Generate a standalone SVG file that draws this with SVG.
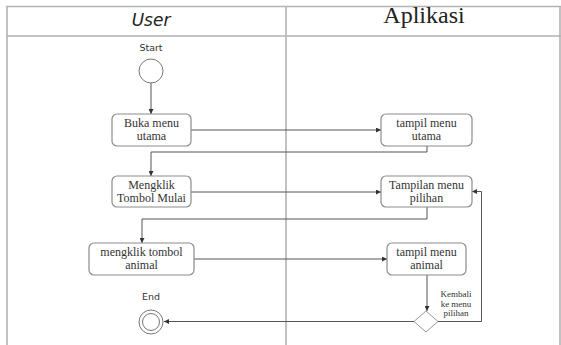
<svg xmlns="http://www.w3.org/2000/svg" width="561" height="345" viewBox="0 0 561 345">
  <defs>
    <marker id="arrow" viewBox="0 0 6 6" refX="6" refY="3" markerWidth="5" markerHeight="5" orient="auto" markerUnits="userSpaceOnUse">
      <path d="M0,0 L6,3 L0,6 z" fill="#333"/>
    </marker>
    <style>
      .frame { fill: none; stroke: #b3b3b3; stroke-width: 1.6; }
      .box { fill: #ffffff; stroke: #8c8c8c; stroke-width: 1.2; }
      .edge { fill: none; stroke: #555; stroke-width: 1; marker-end: url(#arrow); }
      .line { fill: none; stroke: #555; stroke-width: 1; }
      .lbl { font-family: "Liberation Serif", "Times New Roman", serif; font-size: 12px; fill: #333; text-anchor: middle; }
      .small { font-family: "Liberation Serif", "Times New Roman", serif; font-size: 9px; fill: #333; text-anchor: middle; }
      .cap { font-family: "DejaVu Sans", "Liberation Sans", sans-serif; font-size: 9.5px; fill: #333; text-anchor: middle; }
    </style>
  </defs>
  <rect width="561" height="345" fill="#ffffff"/>

  <!-- swimlane frame -->
  <g id="lanes">
    <path class="frame" d="M7,345 V6.5 H561 M7,36 H561 M286,6.5 V345 M560,6.5 V345"/>
    <text x="151" y="26" font-family="DejaVu Sans, sans-serif" font-style="italic" font-size="17" fill="#222" text-anchor="middle">User</text>
    <text x="424" y="23" font-family="Liberation Serif, serif" font-size="24" fill="#222" text-anchor="middle">Aplikasi</text>
  </g>

  <!-- connectors -->
  <g id="connectors">
    <path class="edge" d="M151,83 V114"/>
    <path class="edge" d="M191,130 H381"/>
    <path class="edge" d="M427,146 V152 H151 V176"/>
    <path class="edge" d="M191,192 H381"/>
    <path class="edge" d="M427,207 V219 H142 V243"/>
    <path class="edge" d="M194,259 H387"/>
    <path class="edge" d="M427,275 V311"/>
    <path class="edge" d="M438,321.5 H481.5 V191.5 H472"/>
    <path class="edge" d="M414,321.5 H164"/>
    <text class="small" x="456" y="297">Kembali</text>
    <text class="small" x="456" y="307">ke menu</text>
    <text class="small" x="456" y="316">pilihan</text>
  </g>

  <g id="start">
    <text class="cap" x="151" y="51">Start</text>
    <circle cx="151" cy="71" r="12" fill="#fff" stroke="#777" stroke-width="1"/>
  </g>

  <g id="buka-menu-utama">
    <rect class="box" x="112" y="114" width="79" height="32" rx="5"/>
    <text class="lbl" x="151.5" y="127">Buka menu</text>
    <text class="lbl" x="151.5" y="140">utama</text>
  </g>

  <g id="tampil-menu-utama">
    <rect class="box" x="381" y="114" width="91" height="32" rx="5"/>
    <text class="lbl" x="426.5" y="127">tampil menu</text>
    <text class="lbl" x="426.5" y="140">utama</text>
  </g>

  <g id="mengklik-tombol-mulai">
    <rect class="box" x="112" y="176" width="79" height="31" rx="5"/>
    <text class="lbl" x="151.5" y="189">Mengklik</text>
    <text class="lbl" x="151.5" y="202">Tombol Mulai</text>
  </g>

  <g id="tampilan-menu-pilihan">
    <rect class="box" x="381" y="176" width="91" height="31" rx="5"/>
    <text class="lbl" x="426.5" y="189">Tampilan menu</text>
    <text class="lbl" x="426.5" y="202">pilihan</text>
  </g>

  <g id="mengklik-tombol-animal">
    <rect class="box" x="89" y="243" width="105" height="32" rx="5"/>
    <text class="lbl" x="141.5" y="256">mengklik tombol</text>
    <text class="lbl" x="141.5" y="269">animal</text>
  </g>

  <g id="tampil-menu-animal">
    <rect class="box" x="387" y="243" width="79" height="32" rx="5"/>
    <text class="lbl" x="426.5" y="256">tampil menu</text>
    <text class="lbl" x="426.5" y="269">animal</text>
  </g>

  <g id="decision">
    <polygon points="426,311 438,321.5 426,332 414,321.5" fill="#fff" stroke="#999" stroke-width="1"/>
  </g>

  <g id="end">
    <text class="cap" x="151" y="300">End</text>
    <circle cx="151" cy="322" r="12" fill="#fff" stroke="#777" stroke-width="1"/>
    <circle cx="151" cy="322" r="8.5" fill="#fff" stroke="#777" stroke-width="1"/>
  </g>
</svg>
